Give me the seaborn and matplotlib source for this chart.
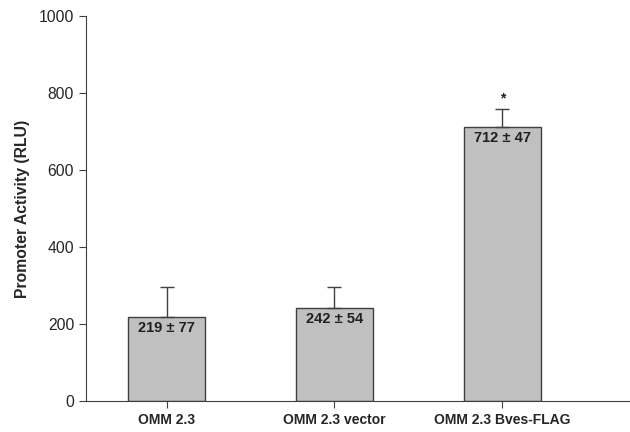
import matplotlib
matplotlib.use("Agg")
import matplotlib.pyplot as plt
import seaborn as sns
import pandas as pd

# values
groups = ["OMM 2.3", "OMM 2.3 vector", "OMM 2.3 Bves-FLAG"]
means = [219, 242, 712]
sds = [77, 54, 47]
stars = ["", "", "*"]

data = pd.DataFrame({"group": groups, "rlu": means})

sns.set_style("ticks")
plt.rcParams["font.family"] = ["Liberation Sans", "DejaVu Sans"]

fig = plt.figure(figsize=(6.3, 4.32), dpi=100)
ax = fig.add_axes([0.1365, 0.0718, 0.8635, 0.8912])

sns.barplot(x="group", y="rlu", data=data, color="#c0c0c0", edgecolor="#404040",
            linewidth=1.0, width=0.46, errorbar=None, saturation=1, ax=ax)

# upward-only error bars
ax.errorbar(range(len(groups)), means, yerr=[[0] * len(sds), sds], fmt="none",
            ecolor="#404040", elinewidth=1.0, capsize=5, capthick=1.0)

for i, (m, s, st) in enumerate(zip(means, sds, stars)):
    ax.text(i, m - 12, f"{m} \u00b1 {s}", ha="center", va="top",
            fontsize=10.5, fontweight="bold", color="#202020")
    if st:
        ax.text(i, m + s + 8, st, ha="center", va="bottom", fontsize=10,
                fontweight="bold", color="#202020")

ax.set_ylim(0, 1000)
ax.set_xlim(-0.48, 2.76)
ax.set_yticks([0, 200, 400, 600, 800, 1000])
ax.set_xlabel("")
ax.set_ylabel("Promoter Activity (RLU)", fontsize=11.3, fontweight="bold", labelpad=6)
ax.tick_params(axis="x", labelsize=10, length=5, color="#404040")
ax.tick_params(axis="y", labelsize=11.3, length=5, color="#404040")
for lbl in ax.get_xticklabels():
    lbl.set_fontweight("bold")
sns.despine(ax=ax)
for sp in ["left", "bottom"]:
    ax.spines[sp].set_color("#404040")

fig.savefig("out.png", dpi=100)
